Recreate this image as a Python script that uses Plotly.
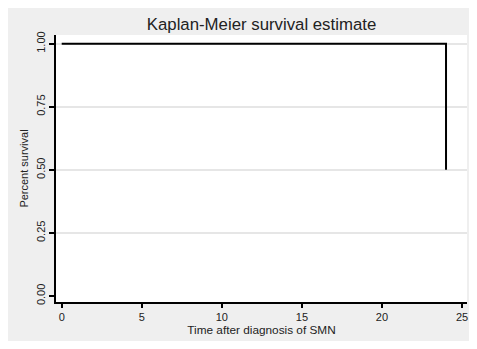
import plotly.graph_objects as go

# Data
time_points = [0, 24]
survival = [1.0, 0.5]
x_ticks = [0, 5, 10, 15, 20, 25]
y_ticks = [0.0, 0.25, 0.5, 0.75, 1.0]
y_tick_labels = ["0.00", "0.25", "0.50", "0.75", "1.00"]
grid_vals = [0.25, 0.5, 0.75, 1.0]

FONT = "Liberation Sans, Arial, Helvetica, sans-serif"
BG = "#efefef"

W, H = 461, 333  # page body has an 8px margin on every side

fig = go.Figure()
fig.add_trace(go.Scatter(
    x=time_points, y=survival, mode="lines", line_shape="hv",
    line=dict(color="black", width=2), showlegend=False, hoverinfo="skip",
))
# invisible trace to carry the grid axis
fig.add_trace(go.Scatter(
    x=time_points, y=survival, mode="lines", yaxis="y2",
    line=dict(color="rgba(0,0,0,0)", width=0), showlegend=False, hoverinfo="skip",
))

fig.update_layout(
    width=W, height=H,
    margin=dict(l=48, r=2, t=27, b=39, autoexpand=False),
    paper_bgcolor=BG, plot_bgcolor="white",
    font=dict(family=FONT, size=11, color="#222222"),
    title=dict(text="Kaplan-Meier survival estimate", x=0.5, xanchor="center",
               xref="paper", y=1 - 16 / H, yanchor="middle",
               font=dict(size=16.8, color="#222222")),
    xaxis=dict(range=[-0.356, 25.31], tickvals=x_ticks, ticks="outside", ticklen=4,
               tickwidth=1.5, tickcolor="black", showline=True, linecolor="black",
               linewidth=2, showgrid=False, zeroline=False, automargin=False,
               ticklabeloverflow="allow",
               title=dict(text="Time after diagnosis of SMN", standoff=0,
                          font=dict(size=11.8)),
               tickfont=dict(size=11)),
    yaxis=dict(range=[-0.0238, 1.0345], tickvals=y_ticks, ticktext=y_tick_labels,
               tickangle=-90, ticks="outside", ticklen=5, tickwidth=1.5,
               tickcolor="black", showline=True, linecolor="black", linewidth=2,
               showgrid=False, zeroline=False, automargin=False,
               title=dict(text="Percent survival", standoff=4, font=dict(size=11)),
               tickfont=dict(size=11)),
    yaxis2=dict(range=[-0.0238, 1.0345], overlaying="y", side="left",
                tickvals=grid_vals, showticklabels=False, ticks="",
                showgrid=True, gridcolor="#e6e6e6", gridwidth=1.5, automargin=False,
                zeroline=False, showline=False),
)

fig.write_html("out.html")
